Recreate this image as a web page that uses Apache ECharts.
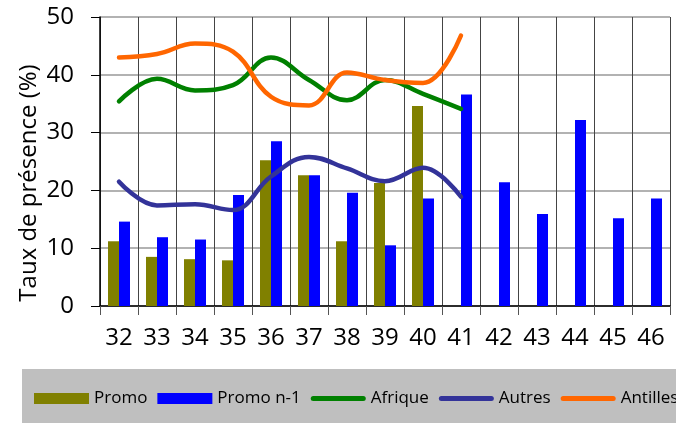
<!DOCTYPE html>
<html><head><meta charset="utf-8">
<script src="https://cdn.jsdelivr.net/npm/echarts@6/dist/echarts.min.js"></script>
<style>html,body{margin:0;padding:0;background:#fff}#c{width:693px;height:423px}</style>
</head><body><div id="c"></div>
<script>
const categories = ['32','33','34','35','36','37','38','39','40','41','42','43','44','45','46'];
const promo = [11.2, 8.5, 8.1, 7.9, 25.2, 22.6, 11.2, 21.3, 34.6, null, null, null, null, null, null];
const promoN1 = [14.6, 11.9, 11.5, 19.2, 28.5, 22.6, 19.6, 10.5, 18.6, 36.6, 21.4, 15.9, 32.2, 15.2, 18.6];
const afrique = [35.4, 39.3, 37.3, 38.2, 43.0, 39.1, 35.6, 39.1, 36.7, 34.1];
const autres = [21.5, 17.4, 17.6, 16.6, 22.4, 25.8, 23.8, 21.6, 23.9, 18.9];
const antilles = [43.0, 43.6, 45.4, 44.0, 36.2, 34.7, 40.4, 39.1, 38.6, 46.8];
const yTicks = {min: 0, max: 50, interval: 10};
const yTitle = 'Taux de présence (%)';

const font = '"Open Sans", "Noto Sans", sans-serif';
const linePath = 'path://M0,0 M55,11 M2.5,3 L52.5,3 A2.5,2.5 0 0 1 52.5,8 L2.5,8 A2.5,2.5 0 0 1 2.5,3 Z';
const chart = echarts.init(document.getElementById('c'));
chart.setOption({
  animation: false,
  textStyle: {fontFamily: font},
  graphic: [
    {type: 'rect', left: 22, top: 369, shape: {width: 654, height: 60}, style: {fill: '#BFBFBF'}, z: -1},
    {type: 'rect', left: 676, top: 365, shape: {width: 20, height: 60}, style: {fill: '#FFFFFF'}, z: 100},
    {type: 'text', x: 29, y: 183, rotation: Math.PI / 2,
     style: {text: yTitle, font: '24px ' + font, fill: '#000', textAlign: 'center', textVerticalAlign: 'middle'}}
  ],
  legend: {
    left: 34, top: 390, padding: 0, itemGap: 10, itemWidth: 55, itemHeight: 11,
    textStyle: {fontSize: 17, color: '#000', fontFamily: font},
    data: [
      {name: 'Promo', icon: 'rect', textStyle: {width: 53}},
      {name: 'Promo n-1', icon: 'rect', textStyle: {width: 80}},
      {name: 'Afrique', icon: linePath, textStyle: {width: 59}},
      {name: 'Autres', icon: linePath, textStyle: {width: 54}},
      {name: 'Antilles', icon: linePath}
    ]
  },
  grid: {left: 100, right: 23, top: 17, bottom: 117},
  xAxis: {
    type: 'category', data: categories,
    axisLine: {lineStyle: {color: '#000', width: 1.5}},
    axisTick: {show: true, length: 9, lineStyle: {color: '#555'}},
    splitLine: {show: true, lineStyle: {color: '#444', width: 1}},
    axisLabel: {fontSize: 24, color: '#000', margin: 20, fontFamily: font}
  },
  yAxis: {
    type: 'value', min: yTicks.min, max: yTicks.max, interval: yTicks.interval,
    axisLine: {show: true, lineStyle: {color: '#000', width: 1.5}},
    axisTick: {show: true, length: 9, inside: false, lineStyle: {color: '#000'}},
    splitLine: {show: true, lineStyle: {color: '#999', width: 1.5}},
    axisLabel: {fontSize: 24, color: '#000', margin: 26, fontFamily: font}
  },
  series: [
    {name: 'Promo', type: 'bar', data: promo, barWidth: 11, barGap: '0%', itemStyle: {color: '#808000'}},
    {name: 'Promo n-1', type: 'bar', data: promoN1, barWidth: 11, barGap: '0%', itemStyle: {color: '#0000FF'}},
    {name: 'Afrique', type: 'line', data: afrique, smooth: 0.4, symbol: 'none', lineStyle: {color: '#008000', width: 4.5, cap: 'round'}, itemStyle: {color: '#008000'}},
    {name: 'Autres', type: 'line', data: autres, smooth: 0.4, symbol: 'none', lineStyle: {color: '#333399', width: 4.5, cap: 'round'}, itemStyle: {color: '#333399'}},
    {name: 'Antilles', type: 'line', data: antilles, smooth: 0.4, symbol: 'none', lineStyle: {color: '#FF6600', width: 4.5, cap: 'round'}, itemStyle: {color: '#FF6600'}}
  ]
});
</script></body></html>
